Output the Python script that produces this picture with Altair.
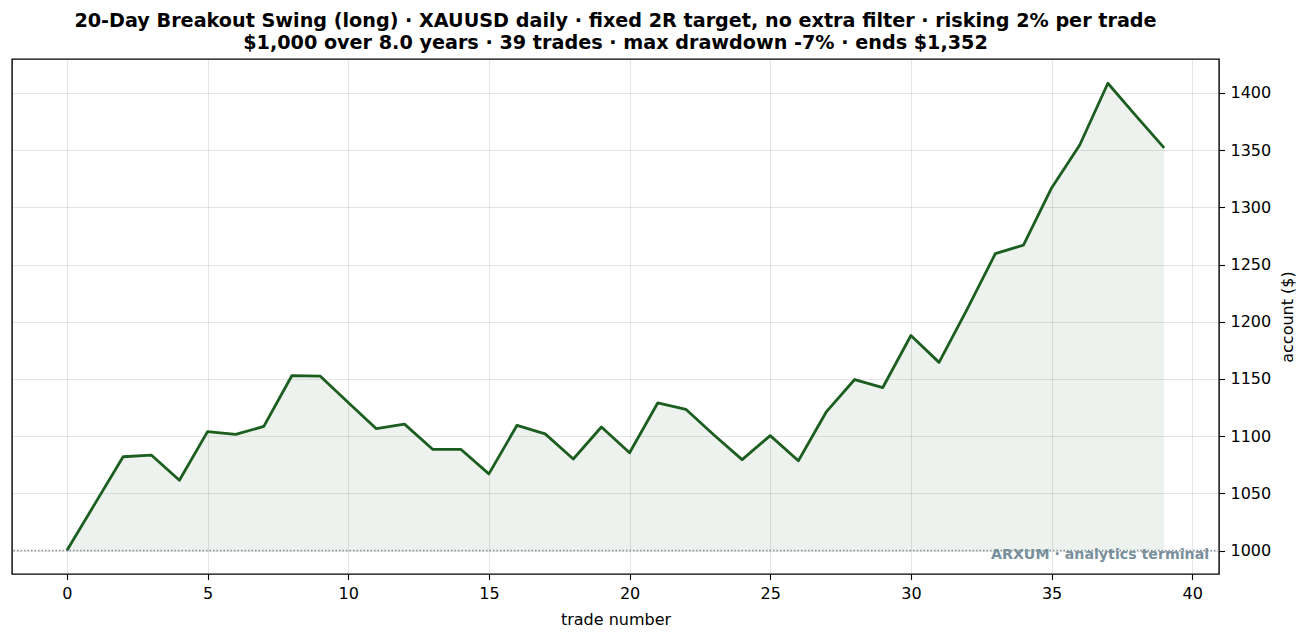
import altair as alt
import pandas as pd

trade_number = list(range(40))
account = [1000, 1041, 1082, 1083.5, 1061.5, 1104, 1101.5, 1108.5, 1153, 1152.5,
           1129.5, 1106.5, 1110.5, 1088.5, 1088.5, 1067, 1109.5, 1102, 1080, 1108,
           1085.5, 1129, 1123.5, 1101, 1079.5, 1100.5, 1078.5, 1121.5, 1149.5, 1142.5,
           1188, 1164.5, 1211, 1259.5, 1267, 1317, 1354.5, 1408.5, 1380, 1352]
start_balance = [1000]
x_ticks = [0, 5, 10, 15, 20, 25, 30, 35, 40]
y_ticks = [1000, 1050, 1100, 1150, 1200, 1250, 1300, 1350, 1400]
title_lines = ["20-Day Breakout Swing (long) · XAUUSD daily · fixed 2R target, no extra filter · risking 2% per trade",
               "$1,000 over 8.0 years · 39 trades · max drawdown -7% · ends $1,352"]
watermark = ["ARXUM · analytics terminal"]
watermark_x = [40.6]
watermark_y = [995.8]

df = pd.DataFrame({"trade": trade_number, "account": account, "base": start_balance * len(account)})
base_df = pd.DataFrame({"base": start_balance})
mark_df = pd.DataFrame({"label": watermark, "x": watermark_x, "y": watermark_y})

FONT = "DejaVu Sans"
x_scale = alt.Scale(domain=[-1.95, 40.95], nice=False, zero=False)
y_scale = alt.Scale(domain=[979.5, 1429.7], nice=False, zero=False)

x_enc = alt.X("trade:Q", scale=x_scale, title="trade number",
              axis=alt.Axis(values=x_ticks, format="d", domain=False, grid=True, gridColor="#000000",
                            gridOpacity=0.1, gridWidth=1, tickColor="#000000", tickSize=5.5, tickWidth=1.1,
                            labelColor="#000000", labelFont=FONT, labelFontSize=16, labelPadding=5.5,
                            titleColor="#000000", titleFont=FONT, titleFontSize=16,
                            titleFontWeight="normal", titlePadding=10))
y_enc = alt.Y("account:Q", scale=y_scale, title="account ($)",
              axis=alt.Axis(orient="right", values=y_ticks, format="d", domain=False, grid=True,
                            gridColor="#000000", gridOpacity=0.1, gridWidth=1, tickColor="#000000",
                            tickSize=5.5, tickWidth=1.1, labelColor="#000000", labelFont=FONT,
                            labelFontSize=16, labelPadding=5.5, titleColor="#000000", titleFont=FONT,
                            titleFontSize=16, titleFontWeight="normal", titleAngle=270,
                            titleX=68, titleY=257.5, titleAlign="center", titleBaseline="middle"))

area = alt.Chart(df).mark_area(color="#1b5e20", opacity=0.08).encode(x=x_enc, y=y_enc, y2="base:Q")
line = alt.Chart(df).mark_line(color="#1b5e20", strokeWidth=2.8, strokeJoin="round").encode(x=x_enc, y=y_enc)
base_rule = alt.Chart(base_df).mark_rule(color="#808c92", strokeWidth=1.4, strokeDash=[1.5, 2]).encode(
    y=alt.Y("base:Q", scale=y_scale))
text = alt.Chart(mark_df).mark_text(align="right", baseline="middle", font=FONT, fontSize=14.2,
                                    fontWeight="bold", color="#78909c").encode(
    x=alt.X("x:Q", scale=x_scale), y=alt.Y("y:Q", scale=y_scale), text="label:N")

chart = alt.layer(area, line, base_rule, text).properties(
    width=1207,
    height=515,
    autosize=alt.AutoSizeParams(type="none"),
    padding={"left": 4, "top": 51, "right": 82, "bottom": 58},
    title=alt.TitleParams(title_lines, anchor="middle", font=FONT, fontSize=19.2, fontWeight="bold",
                          color="#000000", lineHeight=22, offset=6)
).configure_view(stroke="#000000", strokeWidth=1.4)

chart.save("out.html", embed_options={"renderer": "svg", "actions": False})
